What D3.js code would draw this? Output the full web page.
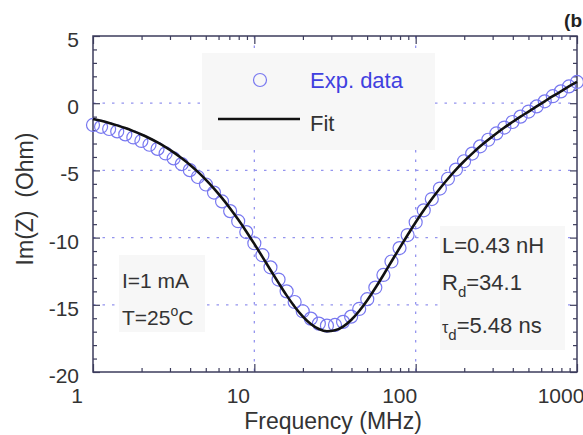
<!DOCTYPE html>
<html>
<head>
<meta charset="utf-8">
<script src="https://cdn.jsdelivr.net/npm/d3@7"></script>
<style>
body { margin: 0; background: #fff; }
svg { display: block; font-family: "Liberation Sans", Arial, sans-serif; }
</style>
</head>
<body>
<svg id="chart"></svg>
<script>
const width = 583,
	height = 435;

// frequencies of the measured points (MHz)
const freq = [1, 1.122, 1.259, 1.413, 1.585, 1.778, 1.995, 2.239, 2.512, 2.818,
	3.162, 3.548, 3.981, 4.467, 5.012, 5.623, 6.31, 7.079, 7.943, 8.913,
	10, 11.22, 12.59, 14.13, 15.85, 17.78, 19.95, 22.39, 25.12, 28.18,
	31.62, 35.48, 39.81, 44.67, 50.12, 56.23, 63.1, 70.79, 79.43, 89.13,
	100, 112.2, 125.9, 141.3, 158.5, 177.8, 199.5, 223.9, 251.2, 281.8,
	316.2, 354.8, 398.1, 446.7, 501.2, 562.3, 631, 707.9, 794.3, 891.3, 1000];
// Im(Z), measured (Ohm)
const expData = [-1.62, -1.76, -1.92, -2.1, -2.32, -2.55, -2.81, -3.09, -3.4, -3.74,
	-4.11, -4.53, -4.98, -5.49, -6.05, -6.65, -7.31, -8.03, -8.78, -9.59,
	-10.42, -11.31, -12.21, -13.12, -14.0, -14.79, -15.48, -16.03, -16.4, -16.55,
	-16.5, -16.27, -15.88, -15.31, -14.58, -13.72, -12.78, -11.78, -10.78, -9.81,
	-8.86, -7.97, -7.13, -6.35, -5.62, -4.94, -4.32, -3.75, -3.21, -2.72,
	-2.25, -1.81, -1.4, -1.0, -0.62, -0.24, 0.14, 0.52, 0.88, 1.25, 1.58];
// Im(Z), fit curve (Ohm)
const fitData = [-1.17, -1.31, -1.47, -1.65, -1.85, -2.08, -2.33, -2.61, -2.92, -3.27,
	-3.66, -4.1, -4.58, -5.11, -5.7, -6.35, -7.06, -7.83, -8.66, -9.54,
	-10.47, -11.43, -12.41, -13.37, -14.3, -15.14, -15.86, -16.43, -16.8, -16.97,
	-16.9, -16.62, -16.13, -15.46, -14.66, -13.75, -12.78, -11.78, -10.78, -9.81,
	-8.86, -7.97, -7.13, -6.35, -5.62, -4.94, -4.32, -3.75, -3.21, -2.72,
	-2.25, -1.81, -1.4, -1.0, -0.62, -0.24, 0.14, 0.52, 0.88, 1.25, 1.58];

const xTicks = [1, 10, 100, 1000];
const xMinor = [2, 3, 4, 5, 6, 7, 8, 9, 20, 30, 40, 50, 60, 70, 80, 90, 200, 300, 400, 500, 600, 700, 800, 900];
const yTicks = [-20, -15, -10, -5, 0, 5];
const yMinor = [-19, -18, -17, -16, -14, -13, -12, -11, -9, -8, -7, -6, -4, -3, -2, -1, 1, 2, 3, 4];
const xGrid = [10, 100];
const yGrid = [-15, -10, -5, 0];

const svg = d3.select('#chart').attr('width', width).attr('height', height);

const x = d3.scaleLog().domain([1, 1000]).range([93, 577]);
const y = d3.scaleLinear().domain([-20, 5]).range([372, 36]);

const gridColor = '#9494ee';
const frameColor = '#3c3c5c';
const textColor = '#333';

// dotted grid
svg.append('g').selectAll('line').data(yGrid).enter().append('line')
	.attr('x1', x(1)).attr('x2', x(1000))
	.attr('y1', (d) => y(d)).attr('y2', (d) => y(d))
	.attr('stroke', gridColor).attr('stroke-width', 1.3).attr('stroke-dasharray', '2.5,7');
svg.append('g').selectAll('line').data(xGrid).enter().append('line')
	.attr('x1', (d) => x(d)).attr('x2', (d) => x(d))
	.attr('y1', y(5)).attr('y2', y(-20))
	.attr('stroke', gridColor).attr('stroke-width', 1.3).attr('stroke-dasharray', '2.5,7');

// boxes behind legend and notes
svg.append('rect').attr('x', 202).attr('y', 53).attr('width', 233).attr('height', 97).attr('fill', '#f7f7f7');
svg.append('rect').attr('x', 119).attr('y', 255).attr('width', 86).attr('height', 77).attr('fill', '#f7f7f7');
svg.append('rect').attr('x', 440).attr('y', 226).attr('width', 125).attr('height', 124).attr('fill', '#f7f7f7');

// frame and ticks
function styleAxis(g) {
	g.select('.domain').remove();
	g.selectAll('.tick line').attr('stroke', frameColor).attr('stroke-width', 1.2);
	g.selectAll('text').remove();
}
svg.append('g').attr('transform', 'translate(0,' + y(-20) + ')')
	.call(d3.axisBottom(x).tickValues(xTicks).tickSize(-8)).call(styleAxis);
svg.append('g').attr('transform', 'translate(0,' + y(-20) + ')')
	.call(d3.axisBottom(x).tickValues(xMinor).tickSize(-4)).call(styleAxis);
svg.append('g').attr('transform', 'translate(0,' + y(5) + ')')
	.call(d3.axisTop(x).tickValues(xTicks).tickSize(-8)).call(styleAxis);
svg.append('g').attr('transform', 'translate(0,' + y(5) + ')')
	.call(d3.axisTop(x).tickValues(xMinor).tickSize(-4)).call(styleAxis);
svg.append('g').attr('transform', 'translate(' + x(1) + ',0)')
	.call(d3.axisLeft(y).tickValues(yTicks).tickSize(-7)).call(styleAxis);
svg.append('g').attr('transform', 'translate(' + x(1) + ',0)')
	.call(d3.axisLeft(y).tickValues(yMinor).tickSize(-4)).call(styleAxis);
svg.append('g').attr('transform', 'translate(' + x(1000) + ',0)')
	.call(d3.axisRight(y).tickValues(yTicks).tickSize(-7)).call(styleAxis);
svg.append('g').attr('transform', 'translate(' + x(1000) + ',0)')
	.call(d3.axisRight(y).tickValues(yMinor).tickSize(-4)).call(styleAxis);
svg.append('rect')
	.attr('x', x(1)).attr('y', y(5))
	.attr('width', x(1000) - x(1)).attr('height', y(-20) - y(5))
	.attr('fill', 'none').attr('stroke', frameColor).attr('stroke-width', 1.5);

// tick labels
svg.append('g').selectAll('text').data(xTicks).enter().append('text')
	.attr('x', (d) => x(d) - 16).attr('y', 403)
	.attr('text-anchor', 'middle').attr('font-size', 21).attr('fill', textColor)
	.text((d) => d);
svg.append('g').selectAll('text').data(yTicks).enter().append('text')
	.attr('x', 79).attr('y', (d) => y(d) + 11)
	.attr('text-anchor', 'end').attr('font-size', 21).attr('fill', textColor)
	.text((d) => d);

// data and fit
const pts = freq.map((f, i) => ({ f: f, exp: expData[i], fit: fitData[i] }));
svg.append('g').selectAll('circle').data(pts).enter().append('circle')
	.attr('cx', (d) => x(d.f)).attr('cy', (d) => y(d.exp)).attr('r', 6.5)
	.attr('fill', 'none').attr('stroke', '#7878f0').attr('stroke-width', 1.2);
const line = d3.line().x((d) => x(d.f)).y((d) => y(d.fit)).curve(d3.curveMonotoneX);
svg.append('path').datum(pts).attr('d', line)
	.attr('fill', 'none').attr('stroke', '#111').attr('stroke-width', 2.6);

// legend
svg.append('circle').attr('cx', 260).attr('cy', 80).attr('r', 6.5)
	.attr('fill', 'none').attr('stroke', '#7878f0').attr('stroke-width', 1.2);
svg.append('text').attr('x', 310).attr('y', 88).attr('font-size', 22).attr('fill', '#4040e0').text('Exp. data');
svg.append('line').attr('x1', 218).attr('x2', 300).attr('y1', 119).attr('y2', 119)
	.attr('stroke', '#111').attr('stroke-width', 2.6);
svg.append('text').attr('x', 310).attr('y', 131).attr('font-size', 22).attr('fill', textColor).text('Fit');

// notes
svg.append('text').attr('x', 122).attr('y', 288).attr('font-size', 21).attr('fill', textColor).text('I=1 mA');
const tNote = svg.append('text').attr('x', 122).attr('y', 325).attr('font-size', 21).attr('fill', textColor);
tNote.append('tspan').text('T=25');
tNote.append('tspan').attr('font-size', 14).attr('dy', -9).text('o');
tNote.append('tspan').attr('dy', 9).text('C');

svg.append('text').attr('x', 442).attr('y', 253).attr('font-size', 22).attr('fill', textColor).text('L=0.43 nH');
const rNote = svg.append('text').attr('x', 442).attr('y', 290).attr('font-size', 22).attr('fill', textColor);
rNote.append('tspan').text('R');
rNote.append('tspan').attr('font-size', 15).attr('dy', 7).text('d');
rNote.append('tspan').attr('dy', -7).text('=34.1');
const tauNote = svg.append('text').attr('x', 442).attr('y', 333).attr('font-size', 22).attr('fill', textColor);
tauNote.append('tspan').attr('font-size', 16).text('τ');
tauNote.append('tspan').attr('font-size', 15).attr('dy', 7).text('d');
tauNote.append('tspan').attr('dy', -7).text('=5.48 ns');

// axis titles
svg.append('text').attr('x', 333).attr('y', 429).attr('text-anchor', 'middle')
	.attr('font-size', 23).attr('fill', textColor).text('Frequency (MHz)');
svg.append('text').attr('transform', 'translate(33,199) rotate(-90)')
	.attr('text-anchor', 'middle').attr('font-size', 23).attr('fill', textColor)
	.style('white-space', 'pre').text('Im(Z)  (Ohm)');

// panel label, clipped at the right edge in the source figure
svg.append('text').attr('x', 582).attr('y', 27).attr('text-anchor', 'end')
	.attr('font-size', 19).attr('font-weight', 'bold')
	.attr('fill', '#222').text('(b');
</script>
</body>
</html>
